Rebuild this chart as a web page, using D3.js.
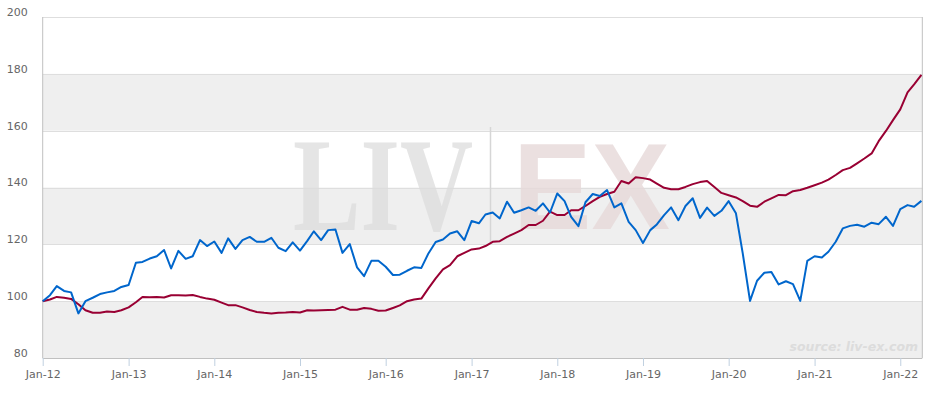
<!DOCTYPE html>
<html>
<head>
<meta charset="utf-8">
<script src="https://cdn.jsdelivr.net/npm/d3@7"></script>
<style>
  body { margin: 0; background: #fff; }
  svg { display: block; font-family: "DejaVu Sans", Verdana, sans-serif; }
</style>
</head>
<body>
<svg width="929" height="394"></svg>
<script>
// monthly index values, Jan-12 .. Apr-22
const firstMonth = new Date(2012, 0, 1);
const lastMonth = new Date(2022, 3, 1);

const blueSeries = [
  100, 102.1, 105.3, 103.6, 103.1, 95.7, 100, 101.2, 102.5, 103.1, 103.6, 105,
  105.7, 113.5, 113.8, 115, 115.8, 118, 111.5, 117.7, 114.9, 115.8, 121.5, 119.4,
  121, 117, 122.1, 118.4, 121.5, 122.6, 120.9, 120.9, 122.3, 118.8, 117.6, 120.7,
  117.8, 121.2, 124.6, 121.5, 125, 125.2, 117, 120.1, 111.9, 108.8, 114.2, 114.2,
  112.1, 109.2, 109.3, 110.7, 111.9, 111.7, 116.8, 120.8, 121.7, 123.8, 124.6, 121.5,
  128.2, 127.4, 130.5, 131.2, 129.1, 135, 131.1, 132, 133, 131.8, 134.4, 131.2,
  137.9, 135.2, 129.7, 126.4, 134.8, 137.7, 137, 139.1, 133, 134.4, 127.9, 125,
  120.5, 125, 127, 130.3, 133, 128.5, 133.5, 136.2, 129.3, 132.9, 130, 131.8,
  135.2, 130.9, 116.8, 100.1, 107.2, 110, 110.3, 105.9, 107, 106, 100.1, 114.2,
  115.8, 115.4, 117.4, 120.9, 125.6, 126.5, 126.9, 126.2, 127.6, 127.1, 129.7, 126.5,
  132.4, 133.8, 133.2, 135.3
];

const redSeries = [
  100, 100.6, 101.5, 101.2, 100.8, 98.9, 96.8, 95.9, 95.9, 96.4, 96.2, 96.8,
  97.8, 99.6, 101.5, 101.4, 101.5, 101.3, 102.1, 102.1, 102, 102.2, 101.5, 100.9,
  100.5, 99.5, 98.6, 98.6, 97.8, 96.9, 96.2, 95.9, 95.7, 95.9, 96, 96.2,
  96, 96.8, 96.7, 96.8, 96.9, 97, 98, 97, 97, 97.6, 97.3, 96.6,
  96.7, 97.6, 98.5, 100, 100.6, 100.9, 104.5, 108, 111.2, 112.7, 115.8, 117,
  118.2, 118.5, 119.4, 120.9, 121.1, 122.6, 123.8, 125, 126.8, 126.8, 128.3, 131.5,
  130.3, 130.3, 132, 132, 133.5, 135.2, 136.7, 137.7, 138.5, 142.3, 141.4, 143.6,
  143.3, 142.8, 141.4, 139.9, 139.4, 139.4, 140.2, 141.2, 141.9, 142.3, 140.2, 138.1,
  137.3, 136.5, 135.2, 133.6, 133.2, 135, 136.2, 137.4, 137.3, 138.7, 139.1, 139.9,
  140.8, 141.7, 142.8, 144.4, 146.1, 146.9, 148.5, 150.2, 152, 156.3, 159.9, 163.7,
  167.5, 173.5, 176.3, 179.6
];

const yTicks = [80, 100, 120, 140, 160, 180, 200];
const bandStarts = [80, 120, 160];   // shaded bands, 20 units tall
const months = d3.timeMonth.range(firstMonth, d3.timeMonth.offset(lastMonth, 1));

const svg = d3.select('svg');
const plotLeft = 42.7, plotRight = 922.3, plotTop = 17, plotBottom = 358;
const labelFont = '"DejaVu Sans", Verdana, sans-serif';

const x = d3.scaleTime().domain([firstMonth, lastMonth]).range([plotLeft, 921.4]);
const y = d3.scaleLinear().domain([80, 200]).range([plotBottom, plotTop]);

// alternating bands
svg.append('g').selectAll('rect').data(bandStarts)
  .enter().append('rect')
    .attr('x', plotLeft)
    .attr('width', plotRight - plotLeft)
    .attr('y', d => y(d + 20))
    .attr('height', d => y(d) - y(d + 20))
    .attr('fill', '#efefef');

// grid lines
svg.append('g').selectAll('line').data(yTicks.slice(1))
  .enter().append('line')
    .attr('x1', plotLeft).attr('x2', plotRight)
    .attr('y1', d => Math.round(y(d)) + 0.5).attr('y2', d => Math.round(y(d)) + 0.5)
    .attr('stroke', '#dedede');

// watermark, squeezed horizontally to the logo's width
const wm = svg.append('g');
const squeeze = (sel, left, base, width) => {
  const w = sel.node().getComputedTextLength();
  sel.attr('transform', `translate(${left},${base}) scale(${width / w},1)`);
};
const liv = wm.append('text')
  .attr('font-family', '"Liberation Serif", serif')
  .attr('font-weight', 'bold')
  .attr('font-size', 133)
  .attr('fill', '#dcdcdc').attr('fill-opacity', 0.75)
  .text('LIV');
squeeze(liv, 293, 230, 180);
wm.append('line')
  .attr('x1', 490.5).attr('x2', 490.5).attr('y1', 127).attr('y2', 242)
  .attr('stroke', '#d6d6d6').attr('stroke-width', 1.5);
const ex = wm.append('text')
  .attr('font-family', '"Liberation Sans", Arial, sans-serif')
  .attr('font-weight', 'bold')
  .attr('font-size', 123)
  .attr('fill', '#e6d8d8').attr('fill-opacity', 0.8)
  .text('EX');
squeeze(ex, 513, 229, 157);

// source note
svg.append('text')
  .attr('x', 918).attr('y', 351)
  .attr('text-anchor', 'end')
  .attr('font-family', labelFont)
  .attr('font-size', 12.5)
  .attr('font-weight', 'bold')
  .attr('font-style', 'italic')
  .attr('fill', '#dcdcdc')
  .text('source: liv-ex.com');

// frame
svg.append('line')
  .attr('x1', plotLeft).attr('x2', plotLeft).attr('y1', plotTop).attr('y2', plotBottom)
  .attr('stroke', '#c0c0c0');
svg.append('line')
  .attr('x1', plotRight).attr('x2', plotRight).attr('y1', plotTop).attr('y2', plotBottom)
  .attr('stroke', '#c0c0c0');

// x axis
const xAxis = d3.axisBottom(x)
  .ticks(d3.timeYear.every(1))
  .tickFormat(d3.timeFormat('%b-%y'))
  .tickSize(8)
  .tickPadding(4);
const gx = svg.append('g')
  .attr('transform', `translate(0,${plotBottom})`)
  .call(xAxis)
  .attr('font-family', labelFont)
  .attr('font-size', 11);
gx.select('.domain').attr('stroke', '#c0c0c0').attr('d', `M${plotLeft},0.5H${plotRight}`);
gx.selectAll('.tick line').attr('stroke', '#c0d0e0');
gx.selectAll('.tick text').attr('fill', '#666');

// y axis labels
const yAxis = d3.axisLeft(y).tickValues(yTicks).tickSize(0).tickPadding(15);
const gy = svg.append('g')
  .attr('transform', `translate(${plotLeft},0)`)
  .call(yAxis)
  .attr('font-family', labelFont)
  .attr('font-size', 11);
gy.select('.domain').remove();
gy.selectAll('.tick text').attr('fill', '#666').attr('dy', '-0.15em');

// lines
const line = d3.line()
  .x((d, i) => x(months[i]))
  .y(d => y(d));

svg.append('path')
  .datum(redSeries)
  .attr('fill', 'none')
  .attr('stroke', '#990033')
  .attr('stroke-width', 2)
  .attr('stroke-linejoin', 'round')
  .attr('d', line);

svg.append('path')
  .datum(blueSeries)
  .attr('fill', 'none')
  .attr('stroke', '#0066cc')
  .attr('stroke-width', 2)
  .attr('stroke-linejoin', 'round')
  .attr('d', line);
</script>
</body>
</html>
